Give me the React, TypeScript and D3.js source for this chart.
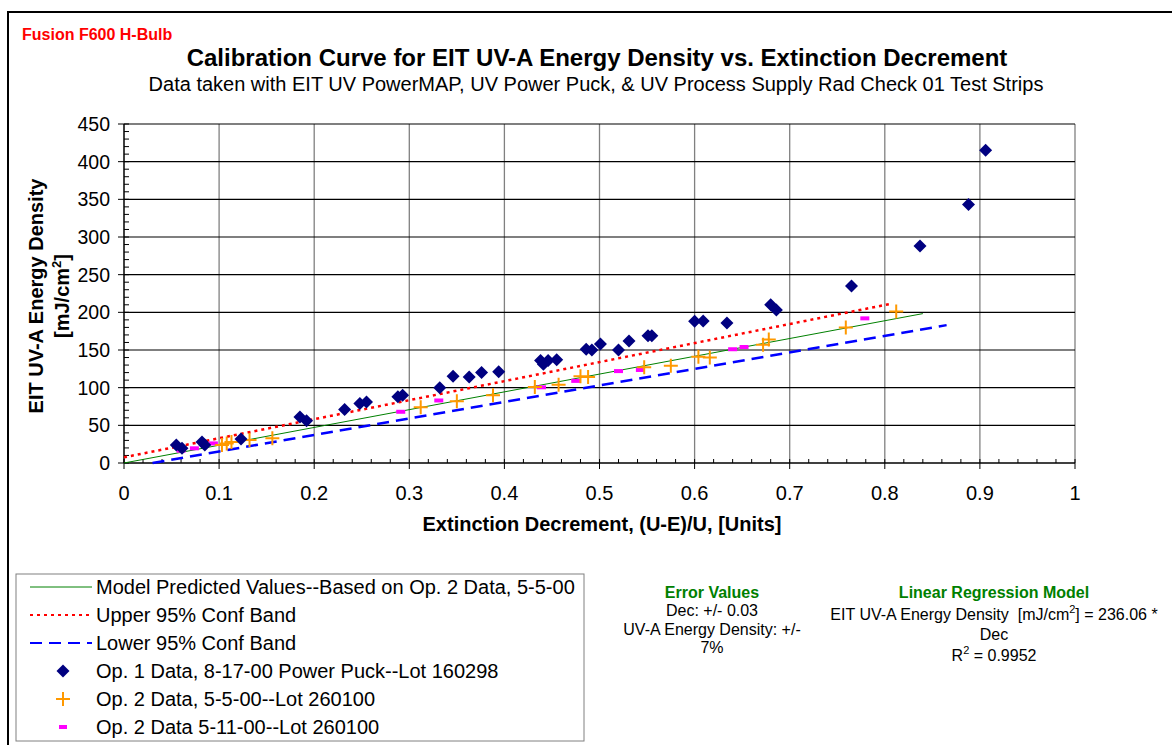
import { useEffect, useRef } from 'react';
import * as d3 from 'd3';

// Op. 1 Data, 8-17-00 Power Puck--Lot 160298
const op1Dec = [0.055, 0.061, 0.082, 0.085, 0.123, 0.185, 0.192, 0.232, 0.248, 0.255, 0.288, 0.293, 0.332, 0.346, 0.363, 0.376, 0.394, 0.438, 0.441, 0.446, 0.455, 0.486, 0.492, 0.501, 0.52, 0.531, 0.551, 0.555, 0.6, 0.609, 0.634, 0.68, 0.686, 0.765, 0.837, 0.888, 0.906];
const op1Energy = [24, 19.5, 28, 24, 32, 61, 56, 71, 79, 81, 88, 90, 100, 115, 114, 120, 121, 136, 131, 136, 137, 151, 150, 158, 150, 162, 169, 169, 188, 188.5, 186, 210, 203, 235, 288, 343, 415];

// Op. 2 Data, 5-5-00--Lot 260100
const op2Dec = [0.103, 0.108, 0.113, 0.132, 0.156, 0.312, 0.35, 0.388, 0.432, 0.457, 0.48, 0.488, 0.547, 0.575, 0.604, 0.616, 0.672, 0.678, 0.759, 0.812];
const op2Energy = [24, 26, 28, 30.5, 33, 74, 82, 90, 101, 104, 115, 114, 127, 129, 141, 140, 157, 164, 180, 201];

// Op. 2 Data 5-11-00--Lot 260100
const op2bDec = [0.06, 0.074, 0.094, 0.291, 0.331, 0.439, 0.475, 0.52, 0.543, 0.64, 0.652, 0.779];
const op2bEnergy = [16.4, 19.5, 26, 68, 83, 100.5, 109, 122, 123.5, 151, 154, 192];

// line end points [dec, energy]
const modelLine: [number, number][] = [[0, 0], [0.84, 198.3]];
const upperLine: [number, number][] = [[0, 7.6], [0.805, 211]];
const lowerLine: [number, number][] = [[0.03, 0], [0.865, 183]];

const yTicks = [0, 50, 100, 150, 200, 250, 300, 350, 400, 450];
const xTicks = [0, 0.1, 0.2, 0.3, 0.4, 0.5, 0.6, 0.7, 0.8, 0.9, 1];

const FONT = 'Arial, "Liberation Sans", sans-serif';

export default function App() {
  const svgRef = useRef<SVGSVGElement>(null);

  useEffect(() => {
    if (!svgRef.current) return;
    const svg = d3.select(svgRef.current);
    svg.selectAll('*').remove();

    const x = d3.scaleLinear().domain([0, 1]).range([124, 1075]);
    const y = d3.scaleLinear().domain([0, 450]).range([463, 124]);

    svg.append('rect').attr('width', 1172).attr('height', 745).attr('fill', '#fff');

    // outer frame
    svg.append('rect')
      .attr('x', 8).attr('y', 12).attr('width', 1180).attr('height', 760)
      .attr('fill', 'none').attr('stroke', '#000').attr('stroke-width', 2);

    // titles
    svg.append('text').attr('x', 22).attr('y', 40)
      .attr('font-family', FONT).attr('font-size', 16).attr('font-weight', 'bold')
      .attr('fill', '#ff0000').text('Fusion F600 H-Bulb');
    svg.append('text').attr('x', 597).attr('y', 66).attr('text-anchor', 'middle')
      .attr('font-family', FONT).attr('font-size', 24).attr('font-weight', 'bold')
      .text('Calibration Curve for EIT UV-A Energy Density vs. Extinction Decrement');
    svg.append('text').attr('x', 596).attr('y', 91).attr('text-anchor', 'middle')
      .attr('font-family', FONT).attr('font-size', 20)
      .text('Data taken with EIT UV PowerMAP, UV Power Puck, & UV Process Supply Rad Check 01 Test Strips');

    // grid
    const g = svg.append('g');
    g.selectAll('line.vg').data(xTicks.slice(1)).join('line')
      .attr('x1', d => x(d)).attr('x2', d => x(d)).attr('y1', y(450)).attr('y2', y(0))
      .attr('stroke', '#808080').attr('stroke-width', 1.3);
    g.selectAll('line.hg').data(yTicks.slice(1)).join('line')
      .attr('x1', x(0)).attr('x2', x(1)).attr('y1', d => y(d)).attr('y2', d => y(d))
      .attr('stroke', '#000').attr('stroke-width', 1.2);

    // axes lines
    g.append('line').attr('x1', x(0)).attr('x2', x(0)).attr('y1', y(450)).attr('y2', y(0))
      .attr('stroke', '#000').attr('stroke-width', 1.5);
    g.append('line').attr('x1', x(0)).attr('x2', x(1)).attr('y1', y(0)).attr('y2', y(0))
      .attr('stroke', '#000').attr('stroke-width', 1.5);

    // y ticks
    g.selectAll('line.ymaj').data(yTicks).join('line')
      .attr('x1', x(0) - 6).attr('x2', x(0)).attr('y1', d => y(d)).attr('y2', d => y(d))
      .attr('stroke', '#000');
    g.selectAll('line.ymin').data(d3.range(0, 451, 10)).join('line')
      .attr('x1', x(0)).attr('x2', x(0) + 5).attr('y1', d => y(d)).attr('y2', d => y(d))
      .attr('stroke', '#000');
    g.selectAll('text.ylab').data(yTicks).join('text')
      .attr('x', 110).attr('y', d => y(d) + 7).attr('text-anchor', 'end')
      .attr('font-family', FONT).attr('font-size', 19.5).text(d => d);

    // x ticks
    g.selectAll('line.xmaj').data(xTicks).join('line')
      .attr('x1', d => x(d)).attr('x2', d => x(d)).attr('y1', y(0)).attr('y2', y(0) + 6)
      .attr('stroke', '#000');
    g.selectAll('line.xmin').data(d3.range(0, 51).map(i => i / 50)).join('line')
      .attr('x1', d => x(d)).attr('x2', d => x(d)).attr('y1', y(0) - 4).attr('y2', y(0))
      .attr('stroke', '#000');
    g.selectAll('text.xlab').data(xTicks).join('text')
      .attr('x', d => x(d)).attr('y', 500).attr('text-anchor', 'middle')
      .attr('font-family', FONT).attr('font-size', 20).text(d => d);

    // axis titles
    svg.append('text').attr('x', 602).attr('y', 531).attr('text-anchor', 'middle')
      .attr('font-family', FONT).attr('font-size', 20).attr('font-weight', 'bold')
      .text('Extinction Decrement, (U-E)/U, [Units]');
    const yt = svg.append('text').attr('transform', 'translate(43,296) rotate(-90)')
      .attr('text-anchor', 'middle').attr('font-family', FONT).attr('font-size', 20).attr('font-weight', 'bold');
    yt.append('tspan').attr('x', 0).attr('y', 0).text('EIT UV-A Energy Density');
    const t2 = yt.append('tspan').attr('x', 0).attr('dy', 26);
    t2.append('tspan').text('[mJ/cm');
    t2.append('tspan').attr('dy', -8).attr('font-size', 13).text('2');
    t2.append('tspan').attr('dy', 8).text(']');

    // lines
    const line = d3.line<[number, number]>().x(d => x(d[0])).y(d => y(d[1]));
    g.append('path').datum(modelLine).attr('d', line)
      .attr('fill', 'none').attr('stroke', '#008000').attr('stroke-width', 1);
    g.append('path').datum(upperLine).attr('d', line)
      .attr('fill', 'none').attr('stroke', '#ff0000').attr('stroke-width', 2.5).attr('stroke-dasharray', '3,4');
    g.append('path').datum(lowerLine).attr('d', line)
      .attr('fill', 'none').attr('stroke', '#0000ff').attr('stroke-width', 2.5).attr('stroke-dasharray', '12,7');

    // markers
    const diamond = (cx: number, cy: number) => `M${cx},${cy - 6.5}L${cx + 6.5},${cy}L${cx},${cy + 6.5}L${cx - 6.5},${cy}Z`;
    const cross = (cx: number, cy: number) => `M${cx - 7},${cy}H${cx + 7}M${cx},${cy - 7}V${cy + 7}`;

    g.selectAll('path.op2b').data(op2bDec).join('path')
      .attr('d', (d, i) => `M${x(d) - 4.5},${y(op2bEnergy[i]) - 2}h9v4h-9Z`)
      .attr('fill', '#ff00ff');
    g.selectAll('path.op2').data(op2Dec).join('path')
      .attr('d', (d, i) => cross(x(d), y(op2Energy[i])))
      .attr('stroke', '#ff9900').attr('stroke-width', 2).attr('fill', 'none');
    g.selectAll('path.op1').data(op1Dec).join('path')
      .attr('d', (d, i) => diamond(x(d), y(op1Energy[i])))
      .attr('fill', '#000080');

    // legend
    const lg = svg.append('g');
    lg.append('rect').attr('x', 16).attr('y', 574).attr('width', 568).attr('height', 167)
      .attr('fill', '#fff').attr('stroke', '#808080').attr('stroke-width', 1);
    const items = [
      'Model Predicted Values--Based on Op. 2 Data, 5-5-00',
      'Upper 95% Conf Band',
      'Lower 95% Conf Band',
      'Op. 1 Data, 8-17-00 Power Puck--Lot 160298',
      'Op. 2 Data, 5-5-00--Lot 260100',
      'Op. 2 Data 5-11-00--Lot 260100',
    ];
    const rowY = (i: number) => 587 + i * 28;
    lg.selectAll('text.li').data(items).join('text')
      .attr('x', 96).attr('y', (_, i) => rowY(i) + 7)
      .attr('font-family', FONT).attr('font-size', 20).text(d => d);
    lg.append('line').attr('x1', 30).attr('x2', 92).attr('y1', rowY(0)).attr('y2', rowY(0))
      .attr('stroke', '#008000').attr('stroke-width', 1);
    lg.append('line').attr('x1', 30).attr('x2', 92).attr('y1', rowY(1)).attr('y2', rowY(1))
      .attr('stroke', '#ff0000').attr('stroke-width', 2).attr('stroke-dasharray', '3,4');
    lg.append('line').attr('x1', 30).attr('x2', 92).attr('y1', rowY(2)).attr('y2', rowY(2))
      .attr('stroke', '#0000ff').attr('stroke-width', 2).attr('stroke-dasharray', '12,7');
    lg.append('path').attr('d', diamond(63, rowY(3))).attr('fill', '#000080');
    lg.append('path').attr('d', cross(63, rowY(4))).attr('stroke', '#ff9900').attr('stroke-width', 2);
    lg.append('rect').attr('x', 59).attr('y', rowY(5) - 2).attr('width', 8).attr('height', 4).attr('fill', '#ff00ff');

    // error values / regression text
    const info = svg.append('g').attr('font-family', FONT).attr('text-anchor', 'middle').attr('font-size', 16);
    info.append('text').attr('x', 712).attr('y', 598).attr('font-weight', 'bold').attr('fill', '#008000').text('Error Values');
    info.append('text').attr('x', 712).attr('y', 616).text('Dec: +/- 0.03');
    info.append('text').attr('x', 712).attr('y', 635).text('UV-A Energy Density: +/-');
    info.append('text').attr('x', 712).attr('y', 653).text('7%');
    info.append('text').attr('x', 994).attr('y', 598).attr('font-weight', 'bold').attr('fill', '#008000').text('Linear Regression Model');
    const eq = info.append('text').attr('x', 994).attr('y', 620).style('white-space', 'pre');
    eq.append('tspan').text('EIT UV-A Energy Density  [mJ/cm');
    eq.append('tspan').attr('dy', -7).attr('font-size', 11).text('2');
    eq.append('tspan').attr('dy', 7).text('] = 236.06 *');
    info.append('text').attr('x', 994).attr('y', 640).text('Dec');
    const r2 = info.append('text').attr('x', 994).attr('y', 661);
    r2.append('tspan').text('R');
    r2.append('tspan').attr('dy', -7).attr('font-size', 11).text('2');
    r2.append('tspan').attr('dy', 7).text(' = 0.9952');
  }, []);

  return (
    <svg
      ref={svgRef}
      width={1172}
      height={745}
      style={{ position: 'absolute', left: 0, top: 0, display: 'block' }}
    />
  );
}
